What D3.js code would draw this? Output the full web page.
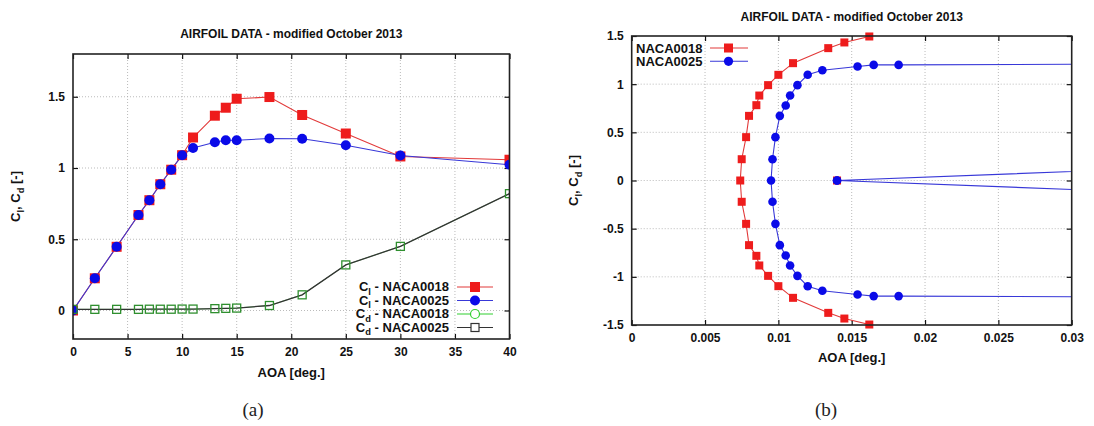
<!DOCTYPE html>
<html><head><meta charset="utf-8">
<script src="https://cdn.jsdelivr.net/npm/d3@7"></script>
<style>
body{margin:0;background:#fff;}
text{font-family:"Liberation Sans",Arial,sans-serif;}
text.cap{font-family:"Liberation Serif","DejaVu Serif",serif;}
</style></head>
<body>
<script>
// ---------- DATA (chart a) ----------
const aoa = [0,2,4,6,7,8,9,10,11,13,14,15,18,21,25,30,40];
const clNaca0018 = [0,0.226,0.447,0.67,0.774,0.886,0.988,1.09,1.214,1.367,1.423,1.486,1.498,1.372,1.242,1.081,1.058];
const clNaca0025 = [0,0.226,0.447,0.67,0.774,0.886,0.988,1.09,1.14,1.181,1.195,1.195,1.207,1.205,1.16,1.088,1.023];
const cdNaca0018 = [0.008,0.008,0.008,0.008,0.009,0.009,0.009,0.01,0.01,0.013,0.015,0.017,0.035,0.11,0.32,0.45,0.82];
const cdNaca0025 = [0.008,0.008,0.008,0.008,0.009,0.009,0.009,0.01,0.01,0.013,0.015,0.017,0.035,0.11,0.32,0.45,0.82];
const xTicksA = [0,5,10,15,20,25,30,35,40];
const yTicksA = [0,0.5,1,1.5];

// ---------- DATA (chart b) ----------
const polarCd0018 = [0.0162,0.0145,0.0134,0.0110,0.0100,0.0093,0.0087,0.0085,0.0080,0.0078,0.0075,0.0074,0.0075,0.0078,0.0080,0.0085,0.0087,0.0093,0.0100,0.0110,0.0134,0.0145,0.0162];
const polarCl0018 = [-1.495,-1.433,-1.374,-1.218,-1.097,-0.99,-0.882,-0.782,-0.671,-0.45,-0.221,0,0.221,0.45,0.671,0.782,0.882,0.99,1.097,1.218,1.374,1.433,1.495];
const polarCd0025 = [0.014,0.2,0.035,0.0182,0.0165,0.0154,0.0130,0.0120,0.0113,0.0108,0.0105,0.0101,0.0098,0.0096,0.0095,0.0096,0.0098,0.0101,0.0105,0.0108,0.0113,0.0120,0.0130,0.0154,0.0165,0.0182,0.035,0.2,0.014];
const polarCl0025 = [0,-1.08,-1.21,-1.2,-1.2,-1.183,-1.145,-1.097,-0.99,-0.882,-0.779,-0.671,-0.45,-0.221,0,0.221,0.45,0.671,0.779,0.882,0.99,1.097,1.145,1.183,1.2,1.2,1.21,1.08,0];
const extraCd0018 = [0.014];
const extraCl0018 = [0];
const xTicksB = [0,0.005,0.01,0.015,0.02,0.025,0.03];
const yTicksB = [-1.5,-1,-0.5,0,0.5,1,1.5];

const titleText = "AIRFOIL DATA - modified October 2013";

const RED = "#ee1c1c", RED_L = "#e23a3a", BLUE = "#0a0ae8", BLUE_L = "#3838d8", GREEN = "#2f8f2f", GREEN_L = "#30d030", BLACK_L = "#333";

const svg = d3.select("body").append("svg").attr("width",1094).attr("height",426);
const defs = svg.append("defs");

function frame(id, x0, x1, y0, y1, xDom, yDom, xTicks, yTicks, xFmt, yFmt){
  const x = d3.scaleLinear().domain(xDom).range([x0,x1]);
  const y = d3.scaleLinear().domain(yDom).range([y1,y0]);
  defs.append("clipPath").attr("id",id).append("rect").attr("x",x0).attr("y",y0).attr("width",x1-x0).attr("height",y1-y0);
  const g = svg.append("g");
  g.append("g").selectAll("line").data(xTicks.filter(t=>t!==xDom[0]&&t!==xDom[1])).join("line")
    .attr("x1",d=>x(d)).attr("x2",d=>x(d)).attr("y1",y0).attr("y2",y1)
    .attr("stroke","#aaa").attr("stroke-width",0.8).attr("stroke-dasharray","1,2");
  g.append("g").selectAll("line").data(yTicks.filter(t=>t!==yDom[0]&&t!==yDom[1])).join("line")
    .attr("x1",x0).attr("x2",x1).attr("y1",d=>y(d)).attr("y2",d=>y(d))
    .attr("stroke","#aaa").attr("stroke-width",0.8).attr("stroke-dasharray","1,2");
  const ax = (sel, axis) => { sel.call(axis); sel.select(".domain").remove(); sel.selectAll(".tick line").attr("stroke","#111").attr("stroke-width",1.2); sel.selectAll("text").attr("font-weight","bold").attr("font-size",12).attr("fill","#111"); };
  g.append("g").attr("transform",`translate(0,${y1})`).call(s=>ax(s, d3.axisBottom(x).tickValues(xTicks).tickFormat(xFmt).tickSizeInner(-5).tickPadding(8)));
  g.append("g").attr("transform",`translate(0,${y0})`).call(s=>{ax(s, d3.axisTop(x).tickValues(xTicks).tickSizeInner(-5).tickFormat("")); });
  g.append("g").attr("transform",`translate(${x0},0)`).call(s=>ax(s, d3.axisLeft(y).tickValues(yTicks).tickFormat(yFmt).tickSizeInner(-5).tickPadding(8)));
  g.append("g").attr("transform",`translate(${x1},0)`).call(s=>{ax(s, d3.axisRight(y).tickValues(yTicks).tickSizeInner(-5).tickFormat("")); });
  return {x,y,g};
}
function drawFrameBorder(x0,x1,y0,y1){
  svg.append("rect").attr("x",x0).attr("y",y0).attr("width",x1-x0).attr("height",y1-y0)
    .attr("fill","none").attr("stroke","#222").attr("stroke-width",1.6);
}
function line(g, clip, xs, ys, sx, sy, color, w){
  const pts = xs.map((v,i)=>[v,ys[i]]);
  g.append("path").attr("clip-path",`url(#${clip})`).attr("d", d3.line().x(d=>sx(d[0])).y(d=>sy(d[1]))(pts))
    .attr("fill","none").attr("stroke",color).attr("stroke-width",w||1.1);
}
function squares(g, clip, pts, sx, sy, size, fill, stroke, sw){
  g.append("g").attr("clip-path",clip?`url(#${clip})`:null).selectAll("rect").data(pts).join("rect")
    .attr("x",d=>sx(d[0])-size/2).attr("y",d=>sy(d[1])-size/2).attr("width",size).attr("height",size)
    .attr("fill",fill).attr("stroke",stroke).attr("stroke-width",sw||0);
}
function circles(g, clip, pts, sx, sy, r, fill, stroke, sw){
  g.append("g").attr("clip-path",clip?`url(#${clip})`:null).selectAll("circle").data(pts).join("circle")
    .attr("cx",d=>sx(d[0])).attr("cy",d=>sy(d[1])).attr("r",r)
    .attr("fill",fill).attr("stroke",stroke).attr("stroke-width",sw||0);
}
function subLabel(sel, parts, size){
  parts.forEach(p=>{
    if(p[1]) sel.append("tspan").text(p[0]).attr("font-size",size*0.72).attr("dy",size*0.3);
    else sel.append("tspan").text(p[0]).attr("font-size",size).attr("dy",p[2]||0);
  });
}

// ================= Chart (a) =================
{
  const X0=73, X1=509.5, Y0=54, Y1=339;
  const {x,y,g} = frame("clipA",X0,X1,Y0,Y1,[0,40],[-0.2,1.8],xTicksA,yTicksA,d3.format("d"),d=>d===0?"0":String(d));
  const P = (xs,ys)=>xs.map((v,i)=>[v,ys[i]]);
  line(g,"clipA",aoa,clNaca0018,x,y,RED_L,1.1);
  line(g,"clipA",aoa,clNaca0025,x,y,BLUE_L,1.1);
  line(g,"clipA",aoa,cdNaca0018,x,y,GREEN_L,0.6);
  line(g,"clipA",aoa,cdNaca0025,x,y,BLACK_L,1.3);
  squares(g,"clipA",P(aoa,clNaca0018),x,y,10,RED,"none");
  circles(g,"clipA",P(aoa,clNaca0025),x,y,5,BLUE,"none");
  squares(g,"clipA",P(aoa,cdNaca0025),x,y,8,"none",GREEN,1.3);
  drawFrameBorder(X0,X1,Y0,Y1);
  svg.append("text").attr("x",(X0+X1)/2).attr("y",38).attr("text-anchor","middle").attr("font-weight","bold").attr("font-size",12).attr("fill","#111").text(titleText);
  svg.append("text").attr("x",(X0+X1)/2).attr("y",377).attr("text-anchor","middle").attr("font-weight","bold").attr("font-size",13).attr("fill","#111").text("AOA [deg.]");
  const yl = svg.append("text").attr("transform",`translate(20,${(Y0+Y1)/2}) rotate(-90)`).attr("text-anchor","middle").attr("font-weight","bold").attr("fill","#111");
  subLabel(yl,[["C",false],["l",true],[", C",false,-13*0.3],["d",true],[" [-]",false,-13*0.3]],13);
  const legend = [
    {t:"l", name:" - NACA0018", lc:RED_L, m:"sq", fill:RED, stroke:"none"},
    {t:"l", name:" - NACA0025", lc:BLUE_L, m:"ci", fill:BLUE, stroke:"none"},
    {t:"d", name:" - NACA0018", lc:GREEN_L, m:"oc", fill:"none", stroke:GREEN_L},
    {t:"d", name:" - NACA0025", lc:BLACK_L, m:"os", fill:"none", stroke:BLACK_L}
  ];
  const rowsY = [287,300.5,314,327.5];
  legend.forEach((L,i)=>{
    const ty = rowsY[i];
    const tx = svg.append("text").attr("x",449).attr("y",ty+4).attr("text-anchor","end").attr("font-weight","bold").attr("fill","#111");
    subLabel(tx,[["C",false],[L.t,true],[L.name,false,-13*0.3]],13);
    svg.append("line").attr("x1",457).attr("x2",493).attr("y1",ty).attr("y2",ty).attr("stroke",L.lc).attr("stroke-width",1.1);
    if(L.m==="sq") svg.append("rect").attr("x",470).attr("y",ty-5).attr("width",10).attr("height",10).attr("fill",L.fill);
    if(L.m==="ci") svg.append("circle").attr("cx",475).attr("cy",ty).attr("r",5).attr("fill",L.fill);
    if(L.m==="oc") svg.append("circle").attr("cx",475).attr("cy",ty).attr("r",4.5).attr("fill","#fff").attr("stroke",L.stroke).attr("stroke-width",1.2);
    if(L.m==="os") svg.append("rect").attr("x",471).attr("y",ty-4).attr("width",8).attr("height",8).attr("fill","#fff").attr("stroke",L.stroke).attr("stroke-width",1.2);
  });
  svg.append("text").attr("class","cap").attr("x",253).attr("y",416).attr("text-anchor","middle").attr("font-size",19).attr("fill","#222").text("(a)");
}

// ================= Chart (b) =================
{
  const X0=631.7, X1=1071.7, Y0=36, Y1=325;
  const fmtX = d=> d===0?"0":String(d);
  const {x,y,g} = frame("clipB",X0,X1,Y0,Y1,[0,0.03],[-1.5,1.5],xTicksB,yTicksB,fmtX,d=>d===0?"0":String(d));
  const pts = (xs,ys)=>xs.map((v,i)=>[v,ys[i]]);
  const visible = p=>p[0]>=0&&p[0]<=0.03&&p[1]>=-1.5&&p[1]<=1.5;
  line(g,"clipB",polarCd0018,polarCl0018,x,y,RED_L,1.1);
  line(g,"clipB",polarCd0025,polarCl0025,x,y,BLUE_L,1.1);
  squares(g,null,pts(polarCd0018,polarCl0018).filter(visible),x,y,8,RED,"none");
  squares(g,null,pts(extraCd0018,extraCl0018),x,y,8,RED,"none");
  const bp = pts(polarCd0025,polarCl0025).filter(visible);
  circles(g,null,bp,x,y,4.3,BLUE,"none");
  drawFrameBorder(X0,X1,Y0,Y1);
  svg.append("text").attr("x",(X0+X1)/2).attr("y",21).attr("text-anchor","middle").attr("font-weight","bold").attr("font-size",12).attr("fill","#111").text(titleText);
  svg.append("text").attr("x",(X0+X1)/2).attr("y",362).attr("text-anchor","middle").attr("font-weight","bold").attr("font-size",13).attr("fill","#111").text("AOA [deg.]");
  const yl = svg.append("text").attr("transform",`translate(578,${(Y0+Y1)/2}) rotate(-90)`).attr("text-anchor","middle").attr("font-weight","bold").attr("fill","#111");
  subLabel(yl,[["C",false],["l",true],[", C",false,-13*0.3],["d",true],[" [-]",false,-13*0.3]],13);
  const legB = [{name:"NACA0018", lc:RED_L, m:"sq"},{name:"NACA0025", lc:BLUE_L, m:"ci"}];
  [48,61.3].forEach((ty,i)=>{
    const L = legB[i];
    svg.append("text").attr("x",636).attr("y",ty+4.5).attr("font-weight","bold").attr("font-size",13).attr("fill","#111").text(L.name);
    svg.append("line").attr("x1",710).attr("x2",748).attr("y1",ty).attr("y2",ty).attr("stroke",L.lc).attr("stroke-width",1.1);
    if(L.m==="sq") svg.append("rect").attr("x",724).attr("y",ty-4.5).attr("width",9).attr("height",9).attr("fill",RED);
    else svg.append("circle").attr("cx",728.5).attr("cy",ty).attr("r",4.6).attr("fill",BLUE);
  });
  svg.append("text").attr("class","cap").attr("x",826).attr("y",416).attr("text-anchor","middle").attr("font-size",19).attr("fill","#222").text("(b)");
}
</script>
</body></html>
